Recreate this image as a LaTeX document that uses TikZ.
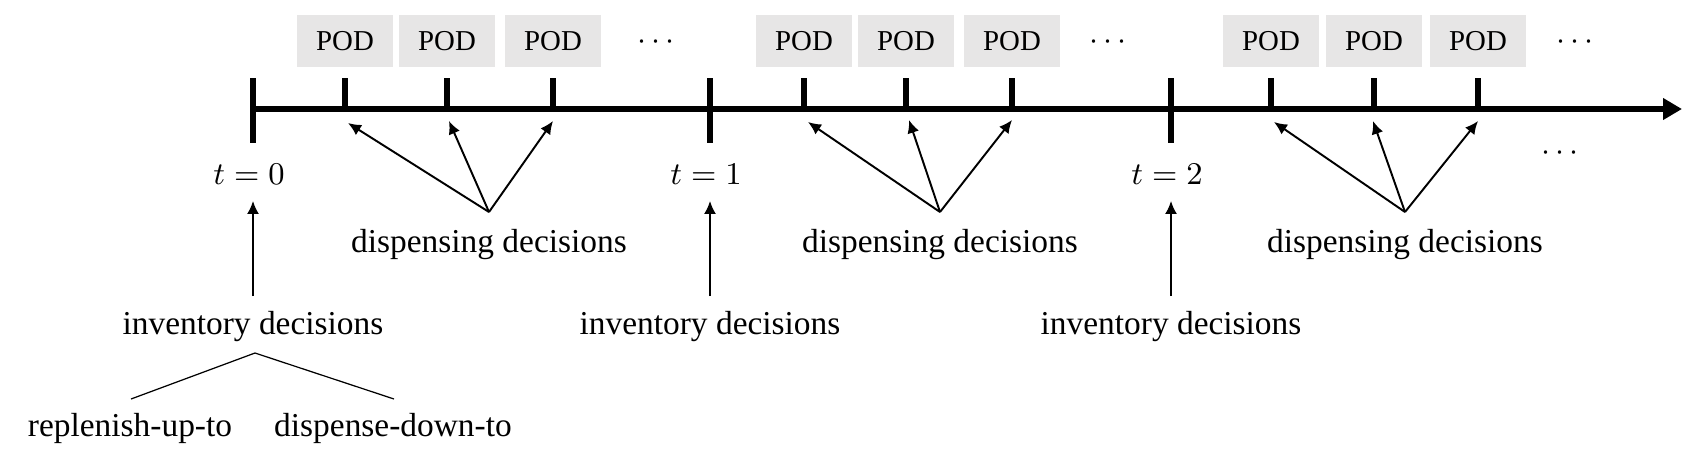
\documentclass[tikz,border=0pt]{standalone}
\usepackage{fontspec}
\setmainfont{Liberation Serif}
\usetikzlibrary{arrows.meta}
\definecolor{podgray}{HTML}{E7E6E6}

\begin{document}
\begin{tikzpicture}[x=0.01cm, y=-0.01cm, font=\fontsize{9.5}{11}\selectfont,
	axis/.style={line width=1.65pt},
	pod/.style={fill=podgray, minimum width=0.96cm, minimum height=0.51cm, inner sep=0pt, font=\fontsize{8.2}{10}\selectfont},
	txt/.style={inner sep=0pt},
	pick/.style={-{Latex[length=3.7pt,width=3.4pt]}, line width=0.55pt},
	branch/.style={line width=0.35pt}
	]

\useasboundingbox (0,0) rectangle (1700,466);

% time axis
\coordinate (start) at (253,109);
\coordinate (end) at (1682,109);
\draw[axis, -{Triangle[length=5.4pt,width=5.9pt]}] (start) -- (end);

% period t=0
\draw[axis] (253,78) -- (253,143) (345,78) -- (345,109) (447,78) -- (447,109) (553,78) -- (553,109);
\node[pod] (pod0a) at (345,41) {POD};
\node[pod] (pod0b) at (447,41) {POD};
\node[pod] (pod0c) at (553,41) {POD};
\node[txt] (more0) at (656,42) {$\cdots$};
\node[txt] (t0) at (249,174) {$t=0$};
\node[txt] (inv0) at (253,327) {inventory decisions};
\node[txt] (disp0) at (489,245) {dispensing decisions};
\coordinate (fan0) at (489,212);
\coordinate (tip0a) at (348,123);
\coordinate (tip0b) at (449,121);
\coordinate (tip0c) at (553,121);
\draw[pick, shorten <=0.15cm, shorten >=0.16cm] (inv0.north) -- (inv0.north |- t0.south);
\draw[pick] (fan0) -- (tip0a);
\draw[pick] (fan0) -- (tip0b);
\draw[pick] (fan0) -- (tip0c);

% period t=1
\draw[axis] (710,78) -- (710,143) (804,78) -- (804,109) (906,78) -- (906,109) (1012,78) -- (1012,109);
\node[pod] (pod1a) at (804,41) {POD};
\node[pod] (pod1b) at (906,41) {POD};
\node[pod] (pod1c) at (1012,41) {POD};
\node[txt] (more1) at (1108,42) {$\cdots$};
\node[txt] (t1) at (706,174) {$t=1$};
\node[txt] (inv1) at (710,327) {inventory decisions};
\node[txt] (disp1) at (940,245) {dispensing decisions};
\coordinate (fan1) at (940,212);
\coordinate (tip1a) at (808,122);
\coordinate (tip1b) at (909,120);
\coordinate (tip1c) at (1012,120);
\draw[pick, shorten <=0.15cm, shorten >=0.16cm] (inv1.north) -- (inv1.north |- t1.south);
\draw[pick] (fan1) -- (tip1a);
\draw[pick] (fan1) -- (tip1b);
\draw[pick] (fan1) -- (tip1c);

% period t=2
\draw[axis] (1171,78) -- (1171,143) (1271,78) -- (1271,109) (1374,78) -- (1374,109) (1478,78) -- (1478,109);
\node[pod] (pod2a) at (1271,41) {POD};
\node[pod] (pod2b) at (1374,41) {POD};
\node[pod] (pod2c) at (1478,41) {POD};
\node[txt] (more2) at (1575,42) {$\cdots$};
\node[txt] (t2) at (1167,174) {$t=2$};
\node[txt] (inv2) at (1171,327) {inventory decisions};
\node[txt] (disp2) at (1405,245) {dispensing decisions};
\coordinate (fan2) at (1405,212);
\coordinate (tip2a) at (1274,122);
\coordinate (tip2b) at (1373,121);
\coordinate (tip2c) at (1478,121);
\draw[pick, shorten <=0.15cm, shorten >=0.16cm] (inv2.north) -- (inv2.north |- t2.south);
\draw[pick] (fan2) -- (tip2a);
\draw[pick] (fan2) -- (tip2b);
\draw[pick] (fan2) -- (tip2c);

\node[txt] (more3) at (1560,153) {$\cdots$};

% split of the inventory decisions
\node[txt] (rep) at (130,428) {replenish-up-to};
\node[txt] (down) at (393,428) {dispense-down-to};
\coordinate (split) at (255,353);
\coordinate (repTop) at (131,399);
\coordinate (downTop) at (394,399);
\draw[branch] (repTop) -- (split) -- (downTop);

\end{tikzpicture}
\end{document}
